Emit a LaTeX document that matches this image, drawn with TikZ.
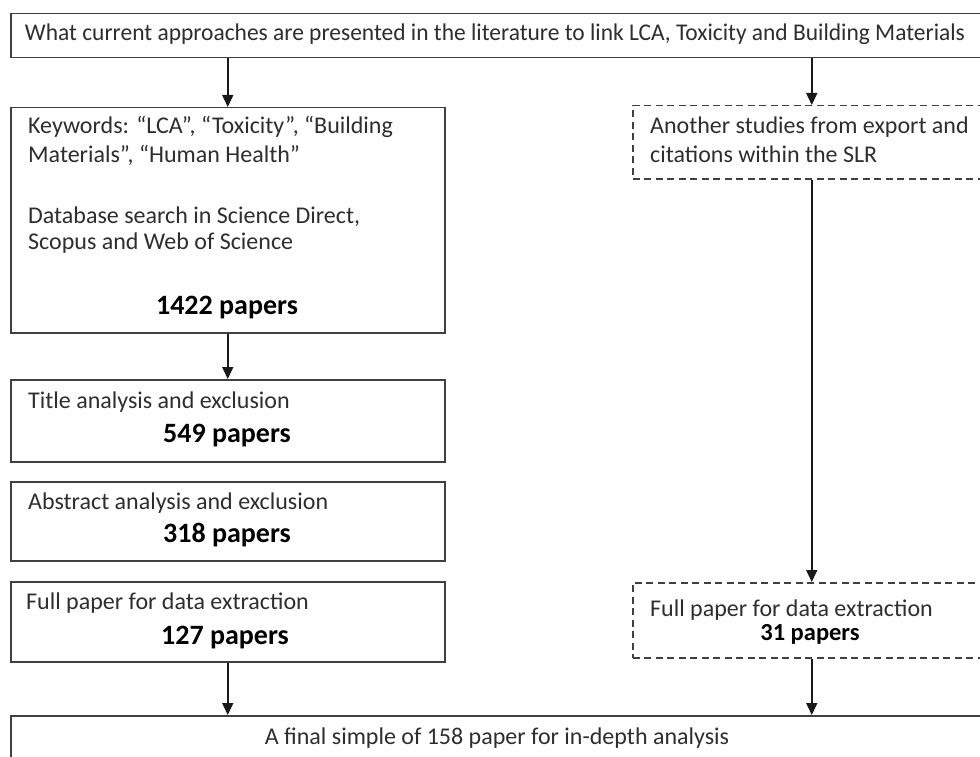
\documentclass[tikz,border=0pt]{standalone}
\usepackage{fontspec}
\setmainfont{Carlito}
\usetikzlibrary{arrows.meta}
\tikzset{
 box/.style={draw=black!75, line width=1.5pt, anchor=north west, inner sep=0pt},
 dbox/.style={box, dash pattern=on 7pt off 4.5pt},
 txt/.style={inner sep=0pt, font=\fontsize{24}{29}\selectfont, text=black!82, text height=17pt, text depth=5pt},
 lt/.style={txt, anchor=west},
 cnt/.style={txt, font=\fontsize{28}{33}\selectfont\bfseries, text=black, text height=20pt, text depth=6pt},
 cntsmall/.style={txt, font=\fontsize{24.5}{29}\selectfont\bfseries, text=black},
 arr/.style={line width=1.5pt, draw=black!90, -{Triangle[width=11pt,length=12pt]}},
}
\begin{document}
\begin{tikzpicture}[x=1pt,y=-1pt]
\useasboundingbox (0,0) rectangle (980,757);
\clip (0,0) rectangle (980,757);
\fill[white] (0,0) rectangle (980,757);
% boxes
\node[box, minimum width=990pt, minimum height=44pt] (top) at (10,13) {};
\node[box, minimum width=434pt, minimum height=225pt] (kw) at (10,107) {};
\node[box, minimum width=434pt, minimum height=82pt] (ti) at (10,379) {};
\node[box, minimum width=434pt, minimum height=79pt] (ab) at (10,481) {};
\node[box, minimum width=434pt, minimum height=80pt] (fp) at (10,581) {};
\node[box, minimum width=990pt, minimum height=47pt] (fin) at (10,715) {};
\node[dbox, minimum width=358pt, minimum height=73pt] (an) at (632,105) {};
\node[dbox, minimum width=358pt, minimum height=75pt] (fp2) at (632,582) {};
% texts
\node[txt] (topt) at (495,35) {\resizebox{940pt}{\height}{What current approaches are presented in the literature to link LCA, Toxicity and Building Materials}};
\node[lt] (kw1) at (28,128) {Keywords: “LCA”, “Toxicity”, “Building};
\node[lt] (kw2) at (28,157) {Materials”, “Human Health”};
\node[lt] (kw3) at (28,217) {Database search in Science Direct,};
\node[lt] (kw4) at (28,243) {Scopus and Web of Science};
\node[cnt] (kwn) at (227,307) {1422 papers};
\node[lt] (ti1) at (28,402) {Title analysis and exclusion};
\node[cnt] (tin) at (227,435) {549 papers};
\node[lt] (ab1) at (28,503) {Abstract analysis and exclusion};
\node[cnt] (abn) at (227,535) {318 papers};
\node[lt] (fp1) at (26,603) {Full paper for data extraction};
\node[cnt] (fpn) at (225,637) {127 papers};
\node[txt] (fint) at (497,738) {A final simple of 158 paper for in-depth analysis};
\node[lt] (an1) at (650,128) {Another studies from export and};
\node[lt] (an2) at (650,157) {citations within the SLR};
\node[lt] (fq1) at (650,610) {Full paper for data extraction};
\node[cntsmall] (fqn) at (810,634) {31 papers};
% connectors
\draw[arr] (top.south -| kw.north) -- (kw.north);
\draw[arr] (top.south -| an.north) -- (an.north);
\draw[arr] (kw.south) -- (ti.north);
\draw[arr] (an.south) -- (fp2.north);
\draw[arr] (fp.south) -- (fp.south |- fin.north);
\draw[arr] (fp2.south) -- (fp2.south |- fin.north);
\end{tikzpicture}
\end{document}
